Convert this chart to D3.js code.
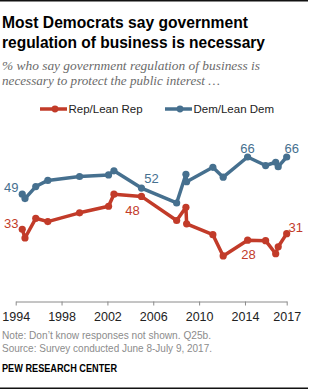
<!DOCTYPE html>
<html>
<head>
<meta charset="utf-8">
<script src="https://cdn.jsdelivr.net/npm/d3@7"></script>
<style>
  body { margin: 0; background: #fff; }
  svg { display: block; font-family: "Liberation Sans", Arial, sans-serif; }
  .axis path, .axis line { stroke: #8a8a8a; }
  .axis text { font-size: 12.5px; fill: #222; }
</style>
</head>
<body>
<svg id="chart"></svg>
<script>
// survey dates (decimal years) and shares
const repYears = [1994.57, 1994.81, 1995.75, 1996.8, 1999.57, 2002.1, 2002.57, 2004.97, 2008.04, 2008.85, 2008.91, 2011.2, 2012.1, 2014.23, 2015.8, 2016.68, 2016.9, 2017.64];
const repValues = [33, 29, 38, 36.5, 40.5, 43.5, 49, 48, 37, 43, 35.5, 30.5, 20.8, 28, 27.8, 21.8, 25, 31];
const demYears = [1994.57, 1994.81, 1995.75, 1996.8, 1999.57, 2002.1, 2002.57, 2004.97, 2008.04, 2008.85, 2008.91, 2011.2, 2012.1, 2014.23, 2015.8, 2016.68, 2016.9, 2017.64];
const demValues = [49, 47, 52.5, 55.3, 57.1, 57.8, 59.7, 51.8, 45, 58.1, 54.7, 61.3, 56.8, 66, 62.1, 63.6, 61.6, 66];
const tickYears = [1994, 1998, 2002, 2006, 2010, 2014, 2017.64];
const tickLabels = ["1994", "1998", "2002", "2006", "2010", "2014", "2017"];
// labelled points: [series, index, text]
const labelPoints = [
  ["dem", 0, "49"], ["dem", 7, "52"], ["dem", 13, "66"], ["dem", 17, "66"],
  ["rep", 0, "33"], ["rep", 7, "48"], ["rep", 13, "28"], ["rep", 17, "31"]
];

const width = 309, height = 390;
const colors = { rep: "#c23b29", dem: "#46708f" };

const svg = d3.select("#chart").attr("width", width).attr("height", height);

// rules
svg.append("rect").attr("x", 0).attr("y", 0).attr("width", 308).attr("height", 1.5).attr("fill", "#111");
svg.append("rect").attr("x", 0).attr("y", 387.5).attr("width", 308).attr("height", 1.5).attr("fill", "#111");

// title + subtitle
const title = svg.append("g").attr("font-weight", "bold").attr("font-size", 17).attr("fill", "#000");
title.append("text").attr("x", 2).attr("y", 27.5).attr("textLength", 246).attr("lengthAdjust", "spacingAndGlyphs")
  .text("Most Democrats say government");
title.append("text").attr("x", 2).attr("y", 47.5).attr("textLength", 263).attr("lengthAdjust", "spacingAndGlyphs")
  .text("regulation of business is necessary");

const sub = svg.append("g").attr("font-family", "'Liberation Serif', Georgia, serif")
  .attr("font-style", "italic").attr("font-size", 12.5).attr("fill", "#6b6b6b");
sub.append("text").attr("x", 2).attr("y", 69.5).attr("textLength", 258).attr("lengthAdjust", "spacingAndGlyphs")
  .text("% who say government regulation of business is");
sub.append("text").attr("x", 2).attr("y", 84.5).attr("textLength", 218).attr("lengthAdjust", "spacingAndGlyphs")
  .text("necessary to protect the public interest \u2026");

// scales
const x = d3.scaleLinear().domain([1994, 2017.64]).range([15.7, 286.7]);
const y = d3.scaleLinear().domain([0, 66]).range([301.5, 157]);

// x axis
const xAxis = d3.axisBottom(x)
  .tickValues(tickYears)
  .tickFormat((d, i) => tickLabels[i])
  .tickSize(4)
  .tickSizeOuter(0)
  .tickPadding(6.5);
svg.append("g").attr("class", "axis").attr("transform", `translate(0, ${y(0)})`).call(xAxis);

// series
const series = [
  { key: "rep", data: repYears.map((t, i) => ({ t, v: repValues[i] })) },
  { key: "dem", data: demYears.map((t, i) => ({ t, v: demValues[i] })) }
];

const lineGen = d3.line().x((d) => x(d.t)).y((d) => y(d.v));

const g = svg.selectAll(".series").data(series).join("g").attr("class", "series");
g.append("path")
  .attr("d", (d) => lineGen(d.data))
  .attr("fill", "none")
  .attr("stroke", (d) => colors[d.key])
  .attr("stroke-width", 3.5)
  .attr("stroke-linejoin", "round");
g.each(function (s) {
  d3.select(this).selectAll("circle").data(s.data).join("circle")
    .attr("cx", (d) => x(d.t))
    .attr("cy", (d) => y(d.v))
    .attr("r", 3.6)
    .attr("fill", colors[s.key]);
});

// value labels
const offsets = {
  "dem0": [-11, -7], "dem7": [10, -10], "dem13": [0, -9], "dem17": [5, -9],
  "rep0": [-11, -6], "rep7": [-9, 14], "rep13": [1, 14], "rep17": [9, -6]
};
svg.append("g").attr("font-size", 13).attr("text-anchor", "middle")
  .selectAll("text").data(labelPoints).join("text")
  .attr("x", (d) => {
    const yrs = d[0] === "dem" ? demYears : repYears;
    return x(yrs[d[1]]) + offsets[d[0] + d[1]][0];
  })
  .attr("y", (d) => {
    const vals = d[0] === "dem" ? demValues : repValues;
    return y(vals[d[1]]) + offsets[d[0] + d[1]][1] + 4.5;
  })
  .attr("fill", (d) => colors[d[0]])
  .text((d) => d[2]);

// legend
const legend = [
  { key: "rep", label: "Rep/Lean Rep", x0: 40 },
  { key: "dem", label: "Dem/Lean Dem", x0: 165 }
];
const lg = svg.append("g").selectAll("g").data(legend).join("g")
  .attr("transform", (d) => `translate(${d.x0}, 109)`);
lg.append("line").attr("x1", 0).attr("x2", 27).attr("stroke", (d) => colors[d.key]).attr("stroke-width", 3.5);
lg.append("circle").attr("cx", 15).attr("r", 3.4).attr("fill", (d) => colors[d.key]);
lg.append("text").attr("x", 28.5).attr("y", 4).attr("font-size", 11.5).attr("fill", "#222").text((d) => d.label);

// notes
const notes = svg.append("g").attr("font-size", 11).attr("fill", "#8c8c8c");
notes.append("text").attr("x", 2).attr("y", 338.5).attr("textLength", 209).attr("lengthAdjust", "spacingAndGlyphs")
  .text("Note: Don\u2019t know responses not shown. Q25b.");
notes.append("text").attr("x", 2).attr("y", 352).attr("textLength", 210).attr("lengthAdjust", "spacingAndGlyphs")
  .text("Source: Survey conducted June 8-July 9, 2017.");
svg.append("text").attr("x", 2).attr("y", 371.5).attr("font-size", 10).attr("font-weight", "bold")
  .attr("fill", "#000").attr("textLength", 115).attr("lengthAdjust", "spacingAndGlyphs")
  .text("PEW RESEARCH CENTER");
</script>
</body>
</html>
